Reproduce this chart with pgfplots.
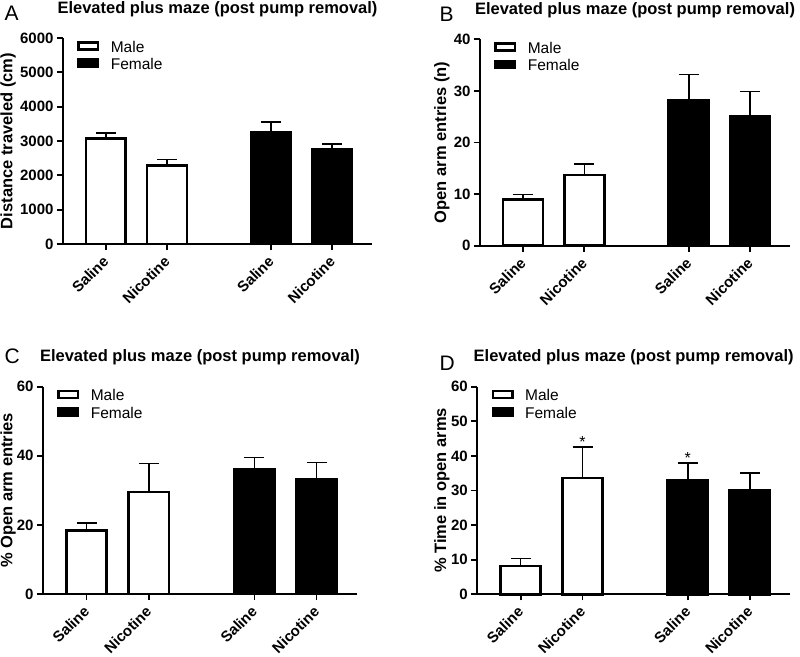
\documentclass[border=0pt]{standalone}
\usepackage{pgfplots}
\pgfplotsset{compat=1.18}
\usepackage{fontspec}
\setmainfont{Liberation Sans}
\begin{document}
\begin{tikzpicture}
\useasboundingbox (0,0) rectangle (800pt,-656pt);
\pgfplotsset{
 panel/.style={
  scale only axis, anchor=south west, clip=false,
  axis x line*=bottom, axis y line*=left,
  axis line style={line width=1.8pt},
  xmin=0.3, xmax=5.35, ymin=0,
  xtick={1,2,3.7,4.7}, xticklabels={Saline,Nicotine,Saline,Nicotine},
  tick align=outside, major tick length=6pt,
  tick style={line width=1.8pt, black},
  xticklabel style={xshift=-4pt, rotate=45, anchor=north east, font=\fontsize{15}{17}\selectfont\bfseries},
  yticklabel style={font=\fontsize{15}{17}\selectfont\bfseries},
  /pgf/number format/assume math mode=true,
  /pgf/number format/set thousands separator={},
  ylabel style={font=\fontsize{16.5}{18}\selectfont\bfseries, anchor=center, rotate=0},
  title style={font=\fontsize{16.5}{18}\selectfont\bfseries, at={(axis description cs:0.5,1)}, anchor=base, yshift=19pt},
  legend cell align=left,
  legend style={draw=none, fill=none, at={(axis description cs:0,1)}, anchor=north west,
    xshift=14pt, yshift=-2pt,
    font=\fontsize{15.5}{17}\selectfont, row sep=0pt, inner sep=0pt,
    nodes={inner sep=2pt, text height=10pt, text depth=3.3pt},
    /tikz/every odd column/.append style={column sep=9.5pt}},
 },
 malebar/.style={ybar, bar shift=0pt, bar width=0.65, fill=white, draw=black, line width=2.6pt,
  /pgfplots/legend image code/.code={\draw[##1] (0pt,-0.5pt) rectangle (19.5pt,6.5pt);},
  /pgfplots/error bars/y dir=plus, /pgfplots/error bars/y explicit,
  /pgfplots/error bars/error mark=|,
  /pgfplots/error bars/error bar style={line width=1.6pt, black},
  /pgfplots/error bars/error mark options={mark size=10pt, line width=1.6pt, black}},
 femalebar/.style={malebar, fill=black},
}
% Panel A
\begin{axis}[panel, at={(63pt,-244pt)}, width=309pt, height=206pt,
  ymax=6000, ytick={0,1000,...,6000},
  ylabel={Distance traveled (cm)}, ylabel style={at={(axis description cs:-0.178,0.5)}},
  title={Elevated plus maze (post pump removal)}]
\addplot[malebar] coordinates {(1,3070) +- (0,169) (2,2293) +- (0,166)};
\addlegendentry{Male}
\addplot[femalebar] coordinates {(3.7,3268) +- (0,293) (4.7,2771) +- (0,146)};
\addlegendentry{Female}
\end{axis}
% Panel B
\begin{axis}[panel, at={(480pt,-245.7pt)}, width=310pt, height=206.4pt,
  ymax=40, ytick={0,10,...,40},
  ylabel={Open arm entries (n)}, ylabel style={at={(axis description cs:-0.123,0.5)}},
  title={Elevated plus maze (post pump removal)}]
\addplot[malebar] coordinates {(1,8.9) +- (0,1.05) (2,13.7) +- (0,2.1)};
\addlegendentry{Male}
\addplot[femalebar] coordinates {(3.7,28.1) +- (0,5.05) (4.7,25.0) +- (0,4.9)};
\addlegendentry{Female}
\end{axis}
% Panel C
\begin{axis}[panel, at={(43pt,-594pt)}, width=314pt, height=207.3pt,
  ymax=60, ytick={0,20,...,60},
  ylabel={\% Open arm entries}, ylabel style={at={(axis description cs:-0.111,0.5)}},
  title={Elevated plus maze (post pump removal)}]
\addplot[malebar] coordinates {(1,18.4) +- (0,2.2) (2,29.5) +- (0,8.3)};
\addlegendentry{Male}
\addplot[femalebar] coordinates {(3.7,36.2) +- (0,3.3) (4.7,33.3) +- (0,4.8)};
\addlegendentry{Female}
\end{axis}
% Panel D
\begin{axis}[panel, at={(477.3pt,-594.3pt)}, width=312.7pt, height=207.6pt,
  ymax=60, ytick={0,10,...,60},
  ylabel={\% Time in open arms}, ylabel style={at={(axis description cs:-0.113,0.5)}},
  title={Elevated plus maze (post pump removal)}]
\addplot[malebar] coordinates {(1,8.2) +- (0,2.2) (2,33.6) +- (0,8.9)};
\addlegendentry{Male}
\addplot[femalebar] coordinates {(3.7,33.0) +- (0,4.9) (4.7,30.1) +- (0,4.9)};
\addlegendentry{Female}
\node[anchor=base, font=\fontsize{16}{18}\selectfont] at (axis cs:2,42.5) {*};
\node[anchor=base, font=\fontsize{16}{18}\selectfont] at (axis cs:3.7,37.9) {*};
\end{axis}
\node[anchor=base west, font=\fontsize{21}{24}\selectfont] at (1pt,-20.7pt) {A};
\node[anchor=base west, font=\fontsize{21}{24}\selectfont] at (436pt,-21.7pt) {B};
\node[anchor=base west, font=\fontsize{21}{24}\selectfont] at (1pt,-363pt) {C};
\node[anchor=base west, font=\fontsize{21}{24}\selectfont] at (436pt,-370pt) {D};
\end{tikzpicture}
\end{document}
